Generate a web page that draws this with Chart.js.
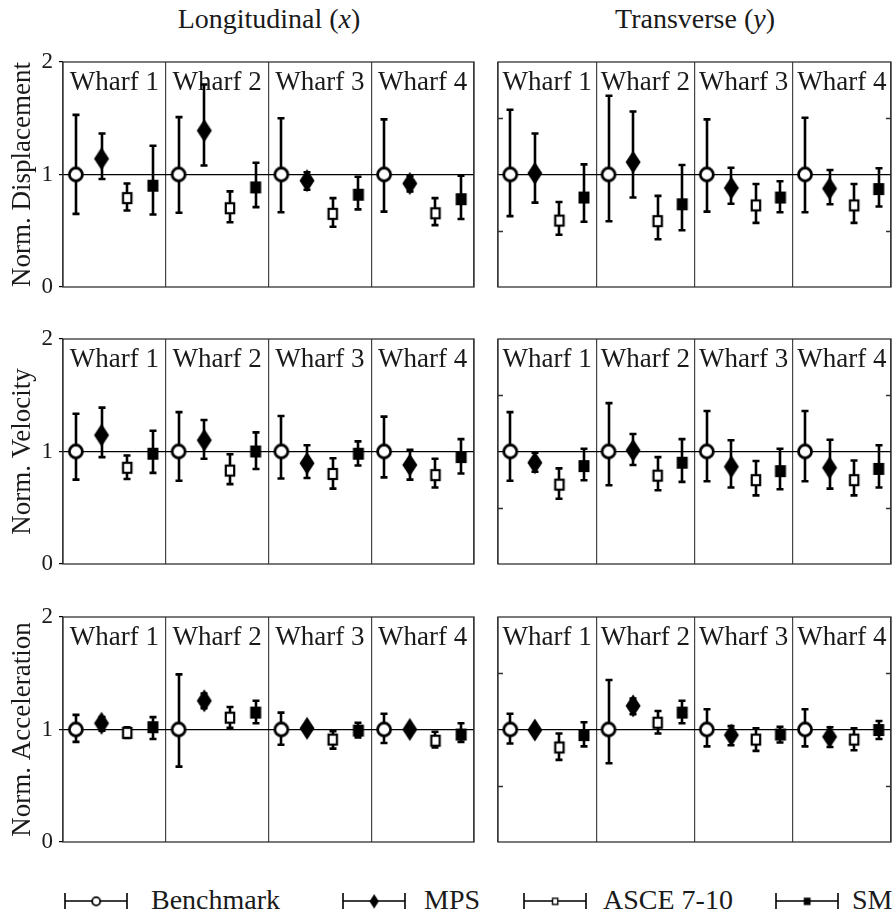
<!DOCTYPE html>
<html>
<head>
<meta charset="utf-8">
<script src="https://cdn.jsdelivr.net/npm/chart.js@4.4.1/dist/chart.umd.min.js"></script>
<style>
  body { margin: 0; background: #fff; }
  #page { position: relative; width: 896px; height: 920px; overflow: hidden; background: #fff;
          font-family: "Liberation Serif", "DejaVu Serif", serif; color: #1a1a1a; }
  canvas.panel { position: absolute; }
  .coltitle { position: absolute; top: 3px; text-align: center; font-size: 28px; line-height: 32px; }
  .leg { position: absolute; top: 885px; font-size: 28px; line-height: 30px; white-space: nowrap; }
  .legsym { position: absolute; top: 888px; }
</style>
</head>
<body>
<div id="page">
  <div class="coltitle" style="left:63px;width:412px">Longitudinal (<i>x</i>)</div>
  <div class="coltitle" style="left:498px;width:394px">Transverse (<i>y</i>)</div>
</div>
<script>
const wharves = ['Wharf 1', 'Wharf 2', 'Wharf 3', 'Wharf 4'];
const seriesNames = ['Benchmark', 'MPS', 'ASCE 7-10', 'SM'];
const yTicks = [0, 1, 2];
const minorTicks = [0.5, 1.5];

// rows: Benchmark, MPS, ASCE 7-10, SM ; columns: Wharf 1..4
const dispXMean = [[1, 1, 1, 1], [1.14, 1.39, 0.945, 0.92], [0.79, 0.70, 0.65, 0.655], [0.90, 0.885, 0.82, 0.78]];
const dispXLow  = [[0.65, 0.66, 0.665, 0.67], [0.96, 1.08, 0.865, 0.85], [0.68, 0.575, 0.535, 0.55], [0.645, 0.71, 0.69, 0.605]];
const dispXHigh = [[1.53, 1.51, 1.50, 1.49], [1.365, 1.80, 1.02, 0.99], [0.92, 0.85, 0.79, 0.79], [1.255, 1.105, 0.98, 0.99]];

const dispYMean = [[1, 1, 1, 1], [1.01, 1.11, 0.88, 0.875], [0.59, 0.585, 0.725, 0.725], [0.795, 0.735, 0.795, 0.87]];
const dispYLow  = [[0.63, 0.585, 0.67, 0.665], [0.75, 0.795, 0.74, 0.735], [0.465, 0.425, 0.57, 0.57], [0.58, 0.505, 0.665, 0.715]];
const dispYHigh = [[1.575, 1.70, 1.49, 1.505], [1.365, 1.56, 1.06, 1.04], [0.755, 0.81, 0.915, 0.915], [1.09, 1.085, 0.94, 1.055]];

const velXMean = [[1, 1, 1, 1], [1.145, 1.10, 0.895, 0.88], [0.855, 0.83, 0.80, 0.79], [0.98, 1.0, 0.98, 0.95]];
const velXLow  = [[0.75, 0.74, 0.76, 0.77], [0.95, 0.935, 0.765, 0.75], [0.755, 0.71, 0.67, 0.68], [0.81, 0.845, 0.875, 0.805]];
const velXHigh = [[1.335, 1.35, 1.315, 1.31], [1.39, 1.28, 1.055, 1.015], [0.965, 0.975, 0.94, 0.935], [1.185, 1.17, 1.09, 1.11]];

const velYMean = [[1, 1, 1, 1], [0.90, 1.01, 0.865, 0.855], [0.705, 0.785, 0.745, 0.745], [0.87, 0.90, 0.825, 0.845]];
const velYLow  = [[0.74, 0.70, 0.735, 0.735], [0.82, 0.88, 0.68, 0.67], [0.58, 0.655, 0.61, 0.61], [0.745, 0.73, 0.665, 0.68]];
const velYHigh = [[1.35, 1.43, 1.36, 1.36], [0.99, 1.155, 1.10, 1.105], [0.85, 0.95, 0.915, 0.92], [1.025, 1.11, 1.025, 1.055]];

const accXMean = [[1, 1, 1, 1], [1.055, 1.255, 1.01, 1.0], [0.97, 1.105, 0.91, 0.90], [1.02, 1.15, 0.99, 0.955]];
const accXLow  = [[0.89, 0.67, 0.865, 0.88], [0.99, 1.19, 0.98, 0.98], [0.925, 1.015, 0.83, 0.84], [0.915, 1.055, 0.93, 0.89]];
const accXHigh = [[1.13, 1.49, 1.15, 1.14], [1.11, 1.32, 1.04, 1.02], [1.02, 1.20, 0.985, 0.98], [1.11, 1.255, 1.06, 1.055]];

const accYMean = [[1, 1, 1, 1], [0.995, 1.21, 0.95, 0.935], [0.84, 1.06, 0.91, 0.91], [0.95, 1.15, 0.955, 0.995]];
const accYLow  = [[0.875, 0.70, 0.85, 0.85], [0.97, 1.135, 0.86, 0.845], [0.73, 0.965, 0.81, 0.815], [0.85, 1.055, 0.885, 0.915]];
const accYHigh = [[1.14, 1.44, 1.18, 1.18], [1.02, 1.275, 1.03, 1.02], [0.965, 1.165, 1.01, 1.01], [1.065, 1.255, 1.025, 1.075]];

const FONT = '"Liberation Serif", "DejaVu Serif", serif';

// marker images
function makeMarker(kind, scale) {
  const s = scale || 1;
  const c = document.createElement('canvas');
  const w = Math.ceil(22 * s), h = Math.ceil(28 * s);
  c.width = w; c.height = h;
  const g = c.getContext('2d');
  const cx = w / 2, cy = h / 2;
  g.fillStyle = '#000'; g.strokeStyle = '#000';
  if (kind === 0) {
    g.lineWidth = 2.8 * s;
    g.beginPath(); g.arc(cx, cy, 6.5 * s, 0, Math.PI * 2);
    g.fillStyle = '#fff'; g.fill(); g.stroke();
  } else if (kind === 1) {
    g.beginPath();
    g.moveTo(cx, cy - 11.5 * s); g.lineTo(cx + 7.5 * s, cy);
    g.lineTo(cx, cy + 11.5 * s); g.lineTo(cx - 7.5 * s, cy); g.closePath();
    g.fill();
  } else if (kind === 2) {
    g.lineWidth = 2.2 * s;
    g.fillStyle = '#fff';
    g.fillRect(cx - 4.2 * s, cy - 5 * s, 8.4 * s, 10 * s);
    g.strokeRect(cx - 4.2 * s, cy - 5 * s, 8.4 * s, 10 * s);
  } else {
    g.fillRect(cx - 5.5 * s, cy - 6 * s, 11 * s, 12 * s);
  }
  return c;
}
const markers = [0, 1, 2, 3].map(k => makeMarker(k, 1));

const panelPlugin = {
  id: 'panel',
  beforeDatasetsDraw(chart, args, opts) {
    const { ctx, chartArea: a, scales: { x, y } } = chart;
    ctx.save();
    // wharf labels
    ctx.fillStyle = '#1a1a1a';
    ctx.font = '27px ' + FONT;
    ctx.textAlign = 'center';
    ctx.textBaseline = 'alphabetic';
    wharves.forEach((w, j) => ctx.fillText(w, x.getPixelForValue(j + 0.5), a.top + 28));
    // error bars
    ctx.strokeStyle = '#000';
    ctx.lineWidth = 2.6;
    opts.low.forEach((row, k) => row.forEach((lo, j) => {
      const px = Math.round(x.getPixelForValue(j + (k + 0.5) / 4));
      const y0 = y.getPixelForValue(lo), y1 = y.getPixelForValue(opts.high[k][j]);
      ctx.beginPath();
      ctx.moveTo(px, y0); ctx.lineTo(px, y1);
      ctx.moveTo(px - 3.5, y0); ctx.lineTo(px + 3.5, y0);
      ctx.moveTo(px - 3.5, y1); ctx.lineTo(px + 3.5, y1);
      ctx.stroke();
    }));
    ctx.restore();
  },
  afterDraw(chart, args, opts) {
    const { ctx, chartArea: a, scales: { y } } = chart;
    ctx.save();
    ctx.strokeStyle = '#333';
    ctx.lineWidth = 1.3;
    ctx.strokeRect(a.left, a.top, a.right - a.left, a.bottom - a.top);
    if (opts.minor) {
      ctx.beginPath();
      minorTicks.forEach(v => {
        const py = Math.round(y.getPixelForValue(v)) + 0.5;
        ctx.moveTo(a.left, py); ctx.lineTo(a.left + 5, py);
        ctx.moveTo(a.right, py); ctx.lineTo(a.right - 5, py);
      });
      ctx.stroke();
    }
    ctx.restore();
  }
};

function makePanel(left, top, right, bottom, isLeft, yTitle, mean, low, high) {
  const page = document.getElementById('page');
  const cv = document.createElement('canvas');
  cv.className = 'panel';
  const axisW = isLeft ? 63 : 10;
  const cLeft = left - axisW;
  const cTop = top - 16;
  const w = right - cLeft + 4, h = bottom - top + 32;
  cv.width = w; cv.height = h;
  cv.style.left = cLeft + 'px'; cv.style.top = cTop + 'px';
  page.appendChild(cv);
  const datasets = seriesNames.map((name, k) => ({
    label: name,
    data: wharves.map((wh, j) => ({ x: j + (k + 0.5) / 4, y: mean[k][j] })),
    pointStyle: markers[k],
    showLine: false
  }));
  new Chart(cv.getContext('2d'), {
    type: 'scatter',
    data: { datasets },
    plugins: [panelPlugin],
    options: {
      responsive: false,
      animation: false,
      events: [],
      layout: { padding: { top: 16, bottom: 16, right: 4, left: 0 } },
      plugins: {
        legend: { display: false },
        tooltip: { enabled: false },
        panel: { low, high, minor: !isLeft }
      },
      scales: {
        x: {
          type: 'linear', min: 0, max: 4,
          afterFit: s => { s.height = 0; s.paddingLeft = 0; s.paddingRight = 0; },
          ticks: { display: false, stepSize: 1 },
          border: { display: false },
          grid: { drawTicks: false, color: '#444', lineWidth: 1.2 }
        },
        y: {
          min: 0, max: 2,
          afterFit: s => { s.width = axisW; s.paddingTop = 0; s.paddingBottom = 0; },
          afterBuildTicks: s => { s.ticks = yTicks.map(v => ({ value: v })); },
          border: { display: false },
          ticks: {
            display: isLeft, padding: 6, color: '#1a1a1a',
            font: { family: FONT, size: 23 }
          },
          grid: {
            drawTicks: isLeft, tickLength: 4, tickColor: '#000', tickWidth: 1.2,
            color: c => (c.tick && c.tick.value === 1 ? '#000' : 'rgba(0,0,0,0)'),
            lineWidth: 1.2
          },
          title: {
            display: isLeft, text: yTitle, color: '#1a1a1a',
            font: { family: FONT, size: 27 }, padding: { top: 7 }
          }
        }
      }
    }
  });
}

const cols = [[63, 475], [498, 892]];
const rows = [[62, 287], [339, 564], [617, 842]];
makePanel(cols[0][0], rows[0][0], cols[0][1], rows[0][1], true, 'Norm. Displacement', dispXMean, dispXLow, dispXHigh);
makePanel(cols[1][0], rows[0][0], cols[1][1], rows[0][1], false, '', dispYMean, dispYLow, dispYHigh);
makePanel(cols[0][0], rows[1][0], cols[0][1], rows[1][1], true, 'Norm. Velocity', velXMean, velXLow, velXHigh);
makePanel(cols[1][0], rows[1][0], cols[1][1], rows[1][1], false, '', velYMean, velYLow, velYHigh);
makePanel(cols[0][0], rows[2][0], cols[0][1], rows[2][1], true, 'Norm. Acceleration', accXMean, accXLow, accXHigh);
makePanel(cols[1][0], rows[2][0], cols[1][1], rows[2][1], false, '', accYMean, accYLow, accYHigh);

// legend with error-bar symbols
const legendSymX = [64, 342, 523, 775];
const legendTextX = [151, 424, 603, 852];
const page = document.getElementById('page');
seriesNames.forEach((name, k) => {
  const c = document.createElement('canvas');
  c.width = 64; c.height = 26; c.className = 'legsym';
  c.style.left = legendSymX[k] + 'px';
  const g = c.getContext('2d');
  g.strokeStyle = '#000'; g.lineWidth = 1.6;
  g.beginPath();
  g.moveTo(1, 5); g.lineTo(1, 21);
  g.moveTo(63, 5); g.lineTo(63, 21);
  g.moveTo(1, 13); g.lineTo(63, 13);
  g.stroke();
  g.drawImage(makeMarker(k, 0.62), 32 - 22 * 0.62 / 2, 13 - 28 * 0.62 / 2);
  page.appendChild(c);
  const t = document.createElement('div');
  t.className = 'leg';
  t.style.left = legendTextX[k] + 'px';
  t.textContent = name;
  page.appendChild(t);
});
</script>
</body>
</html>
